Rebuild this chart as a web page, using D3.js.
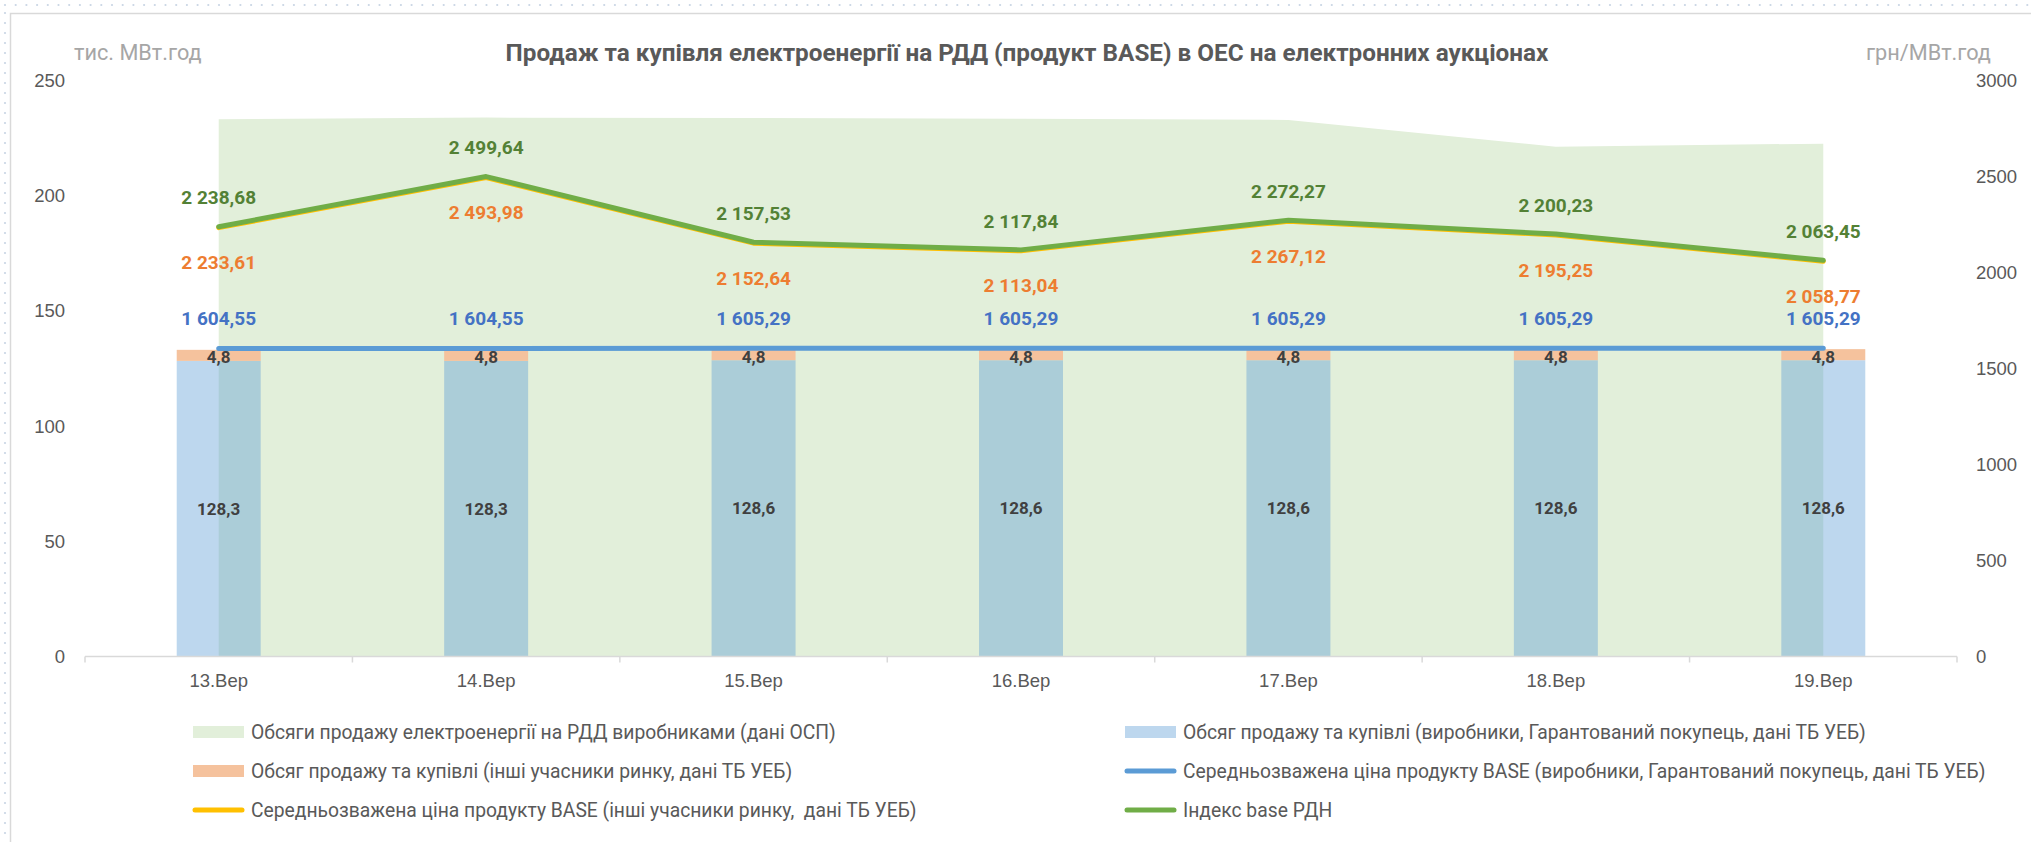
<!DOCTYPE html>
<html>
<head>
<meta charset="utf-8">
<script src="https://cdn.jsdelivr.net/npm/d3@7"></script>
<style>
  body { margin: 0; background: #fff; }
  svg { display: block; font-family: Roboto, "Noto Sans", sans-serif; }
</style>
</head>
<body>
<div id="chart"></div>
<script>
// categories and series
const categories = ["13.Вер", "14.Вер", "15.Вер", "16.Вер", "17.Вер", "18.Вер", "19.Вер"];
const volumeOsp = [233.2, 233.9, 233.7, 233.4, 232.9, 221.3, 222.6];
const volumeProducers = [128.3, 128.3, 128.6, 128.6, 128.6, 128.6, 128.6];
const volumeOthers = [4.8, 4.8, 4.8, 4.8, 4.8, 4.8, 4.8];
const priceProducers = [1604.55, 1604.55, 1605.29, 1605.29, 1605.29, 1605.29, 1605.29];
const priceOthers = [2233.61, 2493.98, 2152.64, 2113.04, 2267.12, 2195.25, 2058.77];
const indexBase = [2238.68, 2499.64, 2157.53, 2117.84, 2272.27, 2200.23, 2063.45];
const leftTicks = [0, 50, 100, 150, 200, 250];
const rightTicks = [0, 500, 1000, 1500, 2000, 2500, 3000];

const title = "Продаж та купівля електроенергії на РДД (продукт BASE) в ОЕС на електронних аукціонах";
const leftUnit = "тис. МВт.год";
const rightUnit = "грн/МВт.год";
const legendLeft = [
  { name: "Обсяги продажу електроенергії на РДД виробниками (дані ОСП)", type: "rect", color: "#e2efda" },
  { name: "Обсяг продажу та купівлі (інші учасники ринку, дані ТБ УЕБ)", type: "rect", color: "#f5c29d" },
  { name: "Середньозважена ціна продукту BASE (інші учасники ринку,  дані ТБ УЕБ)", type: "line", color: "#ffc000" }
];
const legendRight = [
  { name: "Обсяг продажу та купівлі (виробники, Гарантований покупець, дані ТБ УЕБ)", type: "rect", color: "#bdd7ee" },
  { name: "Середньозважена ціна продукту BASE (виробники, Гарантований покупець, дані ТБ УЕБ)", type: "line", color: "#5b9bd5" },
  { name: "Індекс base РДН", type: "line", color: "#70ad47" }
];

const W = 2031, H = 842;
const ua = d3.formatLocale({ decimal: ",", thousands: " ", grouping: [3], currency: ["", ""] });
const fmt2 = ua.format(",.2f");
const fmt1 = ua.format(".1f");

const svg = d3.select("#chart").append("svg")
  .attr("width", W).attr("height", H);

// sheet dots round the chart frame
const dots = svg.append("g").attr("fill", "#c9d5e4");
dots.selectAll(".dh").data(d3.range(5, W, 10.7)).join("circle")
  .attr("cx", d => d).attr("cy", 5).attr("r", 1.1);
dots.selectAll(".dv").data(d3.range(13, H, 10)).join("circle")
  .attr("cx", 5).attr("cy", d => d).attr("r", 1.1);

svg.append("rect")
  .attr("x", 10.5).attr("y", 13.5)
  .attr("width", W + 50).attr("height", H + 50)
  .attr("fill", "#fff").attr("stroke", "#d9d9d9").attr("stroke-width", 1.5);

let x = d3.scaleBand().domain(categories).range([85, 1957]);
let xBar = d3.scaleBand().domain(categories).range([85, 1957])
  .paddingInner(0.686).paddingOuter(0.343);
let yL = d3.scaleLinear().domain([0, 250]).range([656.5, 80.5]);
let yR = d3.scaleLinear().domain([0, 3000]).range([656.5, 80.5]);
let cx = (c) => x(c) + x.bandwidth() / 2;

// green area (left axis)
let area = d3.area()
  .x((d, i) => cx(categories[i]))
  .y0(yL(0))
  .y1(d => yL(d));
svg.append("path")
  .datum(volumeOsp)
  .attr("fill", "#e2efda")
  .attr("d", area);

// stacked bars
svg.append("g").selectAll("rect")
  .data(categories)
  .join("rect")
  .attr("x", c => xBar(c))
  .attr("width", xBar.bandwidth())
  .attr("y", (c, i) => yL(volumeProducers[i]))
  .attr("height", (c, i) => yL(0) - yL(volumeProducers[i]))
  .attr("fill", "#5b9bd5")
  .attr("fill-opacity", 0.4);

svg.append("g").selectAll("rect")
  .data(categories)
  .join("rect")
  .attr("x", c => xBar(c))
  .attr("width", xBar.bandwidth())
  .attr("y", (c, i) => yL(volumeProducers[i] + volumeOthers[i]))
  .attr("height", (c, i) => yL(volumeProducers[i]) - yL(volumeProducers[i] + volumeOthers[i]))
  .attr("fill", "#f5c29d");

// x axis
svg.append("line")
  .attr("x1", x.range()[0]).attr("x2", x.range()[1])
  .attr("y1", yL(0)).attr("y2", yL(0))
  .attr("stroke", "#d9d9d9").attr("stroke-width", 1.5);
let bounds = categories.map(c => x(c)).concat([x.range()[1]]);
svg.append("g").selectAll("line")
  .data(bounds)
  .join("line")
  .attr("x1", d => d).attr("x2", d => d)
  .attr("y1", yL(0)).attr("y2", yL(0) + 6)
  .attr("stroke", "#d9d9d9").attr("stroke-width", 1.5);

let xAxis = svg.append("g")
  .attr("transform", "translate(0," + yL(0) + ")")
  .call(d3.axisBottom(x).tickSize(0).tickPadding(17));
xAxis.select(".domain").remove();
xAxis.selectAll("text").attr("font-size", 18.5).attr("fill", "#595959").attr("font-family", null);

let leftAxis = svg.append("g")
  .attr("transform", "translate(85,0)")
  .call(d3.axisLeft(yL).tickValues(leftTicks).tickSize(0).tickPadding(20));
leftAxis.select(".domain").remove();
leftAxis.selectAll("text").attr("font-size", 18.5).attr("fill", "#595959").attr("font-family", null);

let rightAxis = svg.append("g")
  .attr("transform", "translate(1957,0)")
  .call(d3.axisRight(yR).tickValues(rightTicks).tickFormat(d3.format("d")).tickSize(0).tickPadding(19));
rightAxis.select(".domain").remove();
rightAxis.selectAll("text").attr("font-size", 18.5).attr("fill", "#595959").attr("font-family", null);

// price lines (right axis)
let line = d3.line()
  .x((d, i) => cx(categories[i]))
  .y(d => yR(d));

svg.append("path").datum(priceProducers)
  .attr("fill", "none").attr("stroke", "#5b9bd5").attr("stroke-width", 5)
  .attr("stroke-linecap", "round").attr("stroke-linejoin", "round")
  .attr("d", line);
svg.append("path").datum(priceOthers)
  .attr("fill", "none").attr("stroke", "#ffc000").attr("stroke-width", 5)
  .attr("stroke-linecap", "round").attr("stroke-linejoin", "round")
  .attr("d", line);
svg.append("path").datum(indexBase)
  .attr("fill", "none").attr("stroke", "#70ad47").attr("stroke-width", 5)
  .attr("stroke-linecap", "round").attr("stroke-linejoin", "round")
  .attr("d", line);

// data labels
let labels = svg.append("g")
  .attr("font-size", 19).attr("font-weight", "bold").attr("text-anchor", "middle");

function addLabels(values, scale, offset, color, format) {
  labels.append("g").selectAll("text")
    .data(values)
    .join("text")
    .attr("x", (d, i) => cx(categories[i]))
    .attr("y", d => scale(d) + offset)
    .attr("dy", "0.35em")
    .attr("fill", color)
    .text(d => format(d));
}
addLabels(indexBase, yR, -29, "#538135", fmt2);
addLabels(priceOthers, yR, 35, "#ed7d31", fmt2);
addLabels(priceProducers, yR, -30, "#4472c4", fmt2);

labels.append("g").selectAll("text")
  .data(volumeProducers)
  .join("text")
  .attr("x", (d, i) => cx(categories[i]))
  .attr("y", d => (yL(0) + yL(d)) / 2)
  .attr("dy", "0.35em")
  .attr("fill", "#404040")
  .attr("font-size", 17)
  .text(d => fmt1(d));

labels.append("g").selectAll("text")
  .data(volumeOthers)
  .join("text")
  .attr("x", (d, i) => cx(categories[i]))
  .attr("y", (d, i) => (yL(volumeProducers[i]) + yL(volumeProducers[i] + d)) / 2 + 2)
  .attr("dy", "0.35em")
  .attr("fill", "#404040")
  .attr("font-size", 17)
  .text(d => fmt1(d));

// title and units
svg.append("text")
  .attr("x", 1027).attr("y", 52).attr("dy", "0.35em")
  .attr("text-anchor", "middle")
  .attr("font-size", 24.3).attr("font-weight", "bold").attr("fill", "#595959")
  .text(title);
svg.append("text")
  .attr("x", 74).attr("y", 52).attr("dy", "0.35em")
  .attr("font-size", 21.7).attr("fill", "#a6a6a6")
  .text(leftUnit);
svg.append("text")
  .attr("x", 1866).attr("y", 52).attr("dy", "0.35em")
  .attr("font-size", 21.7).attr("fill", "#a6a6a6")
  .text(rightUnit);

// legend
function drawLegend(items, x0) {
  let g = svg.append("g").selectAll("g")
    .data(items)
    .join("g")
    .attr("transform", (d, i) => "translate(" + x0 + "," + (732 + i * 39) + ")");
  g.filter(d => d.type === "rect").append("rect")
    .attr("x", 0).attr("y", -6).attr("width", 51).attr("height", 12)
    .attr("fill", d => d.color);
  g.filter(d => d.type === "line").append("line")
    .attr("x1", 2).attr("x2", 49).attr("y1", 0).attr("y2", 0)
    .attr("stroke", d => d.color).attr("stroke-width", 5).attr("stroke-linecap", "round");
  g.append("text")
    .attr("x", 58).attr("dy", "0.35em")
    .attr("font-size", 19.3).attr("fill", "#595959")
    .style("white-space", "pre")
    .text(d => d.name);
}
drawLegend(legendLeft, 193);
drawLegend(legendRight, 1125);
</script>
</body>
</html>
